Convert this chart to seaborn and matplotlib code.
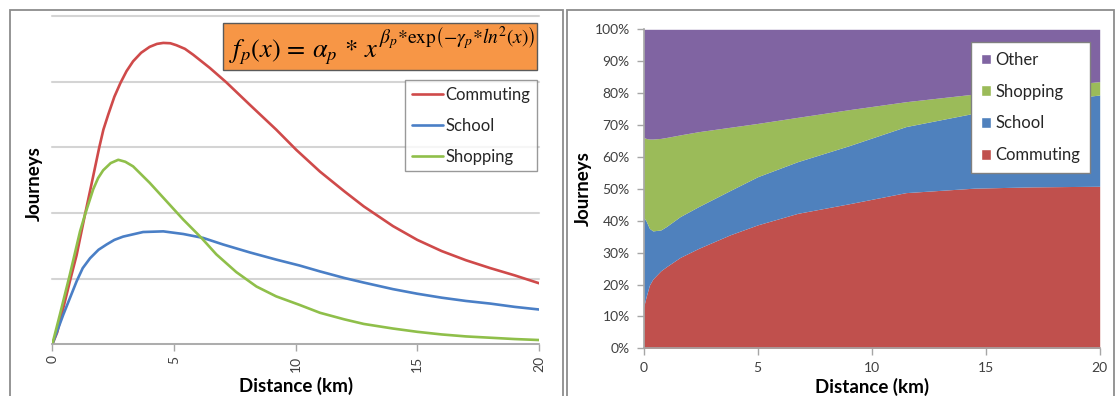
import matplotlib
matplotlib.use("Agg")
import matplotlib.pyplot as plt
from matplotlib.patches import Rectangle, Patch
import seaborn as sns
import pandas as pd

# ---------------- data ----------------
# Left chart: journey distributions (1 unit = 1 gridline step)
commuting_x = [0, 0.2, 0.45, 0.75, 1.0, 1.34, 1.6, 1.93, 2.1, 2.3, 2.55, 2.8, 3.05, 3.32, 3.65,
               4.0, 4.3, 4.56, 4.85, 5.1, 5.45, 5.79, 6.47, 7.15, 8.11, 9.2, 10.03, 11, 12, 12.8,
               14, 15, 16, 17, 18, 19, 20]
commuting_y = [0, 0.18, 0.55, 1.0, 1.36, 1.97, 2.42, 3.0, 3.27, 3.5, 3.77, 3.98, 4.16, 4.31, 4.44,
               4.53, 4.575, 4.59, 4.585, 4.555, 4.5, 4.41, 4.21, 3.99, 3.65, 3.27, 2.96, 2.63, 2.33, 2.10,
               1.80, 1.59, 1.42, 1.28, 1.16, 1.05, 0.93]

school_x = [0, 0.2, 0.45, 1.0, 1.25, 1.55, 1.9, 2.23, 2.55, 2.91, 3.73, 4.56, 5.38, 6.2, 7.02,
            8.11, 9.2, 10.16, 11, 12, 12.8, 14, 15, 16, 17, 18, 19, 20]
school_y = [0, 0.2, 0.45, 0.96, 1.16, 1.31, 1.44, 1.52, 1.59, 1.64, 1.71, 1.72, 1.68, 1.62, 1.52,
            1.40, 1.29, 1.20, 1.11, 1.01, 0.94, 0.84, 0.77, 0.71, 0.66, 0.62, 0.57, 0.53]

shopping_x = [0, 0.31, 0.72, 1.14, 1.34, 1.68, 1.88, 2.09, 2.4, 2.71, 3.0, 3.32, 4.0, 4.69, 5.38,
              6.13, 6.74, 7.56, 8.39, 9.2, 10.16, 11, 12, 12.8, 14, 15, 16, 17, 18, 19, 20]
shopping_y = [0, 0.45, 1.06, 1.72, 1.97, 2.36, 2.53, 2.65, 2.76, 2.81, 2.78, 2.71, 2.46, 2.18, 1.90,
              1.62, 1.37, 1.10, 0.88, 0.73, 0.60, 0.48, 0.38, 0.31, 0.24, 0.19, 0.15, 0.12, 0.10, 0.08, 0.065]

left_ticks = [0, 5, 10, 15, 20]

# Right chart: shares (%) by distance
share_x = [0, 0.1, 0.25, 0.4, 0.75, 1.0, 1.6, 2.4, 3.8, 5, 6.75, 9, 11.5, 14.5, 17, 20]
share_commuting = [13, 16, 19.8, 21.7, 24.3, 25.6, 28.5, 31.3, 35.6, 38.7, 42.3, 45.3, 48.8, 50.2, 50.6, 50.8]
share_school = [28, 24, 17.8, 15.1, 12.8, 12.6, 12.8, 13.1, 13.9, 15.1, 16.2, 18.2, 20.7, 23.5, 26.4, 28.6]
share_shopping = [25.1, 25.8, 28, 28.8, 28.7, 27.9, 25.6, 23.5, 19.8, 16.7, 13.9, 11.3, 7.8, 6.0, 4.5, 4.2]
share_other = [33.9, 34.2, 34.4, 34.4, 34.2, 33.9, 33.1, 32.1, 30.7, 29.5, 27.6, 25.2, 22.7, 20.3, 18.5, 16.4]

right_yticks = [0, 10, 20, 30, 40, 50, 60, 70, 80, 90, 100]
right_ylabels = ["0%", "10%", "20%", "30%", "40%", "50%", "60%", "70%", "80%", "90%", "100%"]
right_xticks = [0, 5, 10, 15, 20]

# ---------------- styling ----------------
sns.set_theme(style="white")
plt.rcParams["font.family"] = ["Lato", "DejaVu Sans"]
plt.rcParams["mathtext.fontset"] = "stix"

RED, BLUE, GREEN, PURPLE = "#c0504d", "#4f81bd", "#9bbb59", "#8064a2"
LRED, LBLUE, LGREEN = "#cf4a4a", "#4a7fc6", "#8fbf4a"
TICKC = "#404040"
W, H = 1118, 396

fig = plt.figure(figsize=(W / 100, H / 100), dpi=100)

# panel borders
fig.add_artist(Rectangle((10 / W, -0.1), (563 - 10) / W, (396 - 10) / H + 0.1,
                         transform=fig.transFigure, fill=False, edgecolor="#8c8c8c", lw=1.3))
fig.add_artist(Rectangle((567 / W, -0.1), (1114 - 567) / W, (396 - 10) / H + 0.1,
                         transform=fig.transFigure, fill=False, edgecolor="#8c8c8c", lw=1.3))

# ---------------- left chart ----------------
axL = fig.add_axes([52.3 / W, (H - 344.3) / H, (539 - 52.3) / W, (344.3 - 16) / H])
df_c = pd.DataFrame({"x": commuting_x, "y": commuting_y})
df_s = pd.DataFrame({"x": school_x, "y": school_y})
df_h = pd.DataFrame({"x": shopping_x, "y": shopping_y})
sns.lineplot(data=df_c, x="x", y="y", ax=axL, color=LRED, lw=1.9, label="Commuting")
sns.lineplot(data=df_s, x="x", y="y", ax=axL, color=LBLUE, lw=1.9, label="School")
sns.lineplot(data=df_h, x="x", y="y", ax=axL, color=LGREEN, lw=1.9, label="Shopping")
for ln in axL.get_lines():
    ln.set_solid_joinstyle("round")
axL.set_xlim(0, 20)
axL.set_ylim(0, 5)
axL.set_yticks([0, 1, 2, 3, 4, 5])
axL.set_yticklabels([])
axL.yaxis.grid(True, color="#d4d4d4", lw=1.5)
for gl in axL.get_ygridlines():
    gl.set_clip_on(False)
axL.set_axisbelow(True)
axL.set_xticks(left_ticks)
axL.set_xticklabels([str(t) for t in left_ticks], rotation=90, fontsize=10, color=TICKC)
axL.tick_params(axis="x", bottom=True, length=5, width=1, color="#a6a6a6", pad=3)
axL.tick_params(axis="y", left=False, length=0)
for s in ["left", "top", "right"]:
    axL.spines[s].set_visible(False)
axL.spines["bottom"].set_color("#a6a6a6")
axL.spines["bottom"].set_linewidth(1.2)
axL.set_xlabel("Distance (km)", fontsize=13.5, fontweight="bold", color="black", va="top")
axL.xaxis.set_label_coords(0.5, -0.098)
axL.set_ylabel("Journeys", fontsize=13.5, fontweight="bold", color="black")
axL.yaxis.set_label_coords(-0.019, 0.49)
legL = axL.legend(loc="upper right", bbox_to_anchor=(0.995, 0.805), borderaxespad=0,
                  frameon=True, fancybox=False, edgecolor="#808080", fontsize=12,
                  handlelength=1.9, handletextpad=0.1, labelspacing=0.9,
                  borderpad=0.4)
legL.get_frame().set_linewidth(1.0)
for t in legL.get_texts():
    t.set_color("#262626")

# equation box
fig.add_artist(Rectangle((222.7 / W, 1 - 70 / H), 314 / W, 46.7 / H,
                         transform=fig.transFigure, facecolor="#f79646",
                         edgecolor="#5a5a5a", lw=1.0))
eq_base = fig.text(229 / W, 1 - 52 / H, r"$f_p(x)\,=\,\alpha_p\,*\,x$",
                   ha="left", va="center", fontsize=19, color="black")
fig.canvas.draw()
bb = eq_base.get_window_extent()
fig.text(bb.x1 / W + 0.5 / W, 1 - 38 / H,
         r"$\beta_p{*}\mathrm{exp}\left(-\gamma_p{*}ln^2(x)\right)$",
         ha="left", va="center", fontsize=14, color="black")

# ---------------- right chart ----------------
axR = fig.add_axes([643.7 / W, (H - 348.3) / H, 456 / W, 319 / H])
axR.stackplot(share_x, share_commuting, share_school, share_shopping, share_other,
              colors=[RED, BLUE, GREEN, PURPLE], lw=0)
axR.set_xlim(0, 20)
axR.set_ylim(0, 100)
axR.set_yticks(right_yticks)
axR.set_yticklabels(right_ylabels, fontsize=10, color=TICKC)
axR.set_xticks(right_xticks)
axR.set_xticklabels([str(t) for t in right_xticks], fontsize=10, color=TICKC)
axR.tick_params(axis="both", left=True, bottom=True, length=5, width=1, color="#a6a6a6")
axR.tick_params(axis="y", pad=5)
axR.tick_params(axis="x", pad=5)
for s in ["top", "right"]:
    axR.spines[s].set_visible(False)
for s in ["left", "bottom"]:
    axR.spines[s].set_color("#a6a6a6")
    axR.spines[s].set_linewidth(1.2)
axR.set_xlabel("Distance (km)", fontsize=13.5, fontweight="bold", color="black", va="top")
axR.xaxis.set_label_coords(0.5, -0.092)
axR.set_ylabel("Journeys", fontsize=13.5, fontweight="bold", color="black")
axR.yaxis.set_label_coords(-0.113, 0.5)
handles = [Patch(facecolor=PURPLE, label="Other"),
           Patch(facecolor=GREEN, label="Shopping"),
           Patch(facecolor=BLUE, label="School"),
           Patch(facecolor=RED, label="Commuting")]
legR = axR.legend(handles=handles, loc="upper right", bbox_to_anchor=(0.979, 0.961),
                  borderaxespad=0, frameon=True, fancybox=False, edgecolor="#808080",
                  facecolor="white", framealpha=1, fontsize=12, handlelength=0.6,
                  handleheight=0.6, handletextpad=0.25, labelspacing=0.95, borderpad=0.6)
legR.get_frame().set_linewidth(1.0)
for t in legR.get_texts():
    t.set_color("#262626")

fig.savefig("out.png", dpi=100)
